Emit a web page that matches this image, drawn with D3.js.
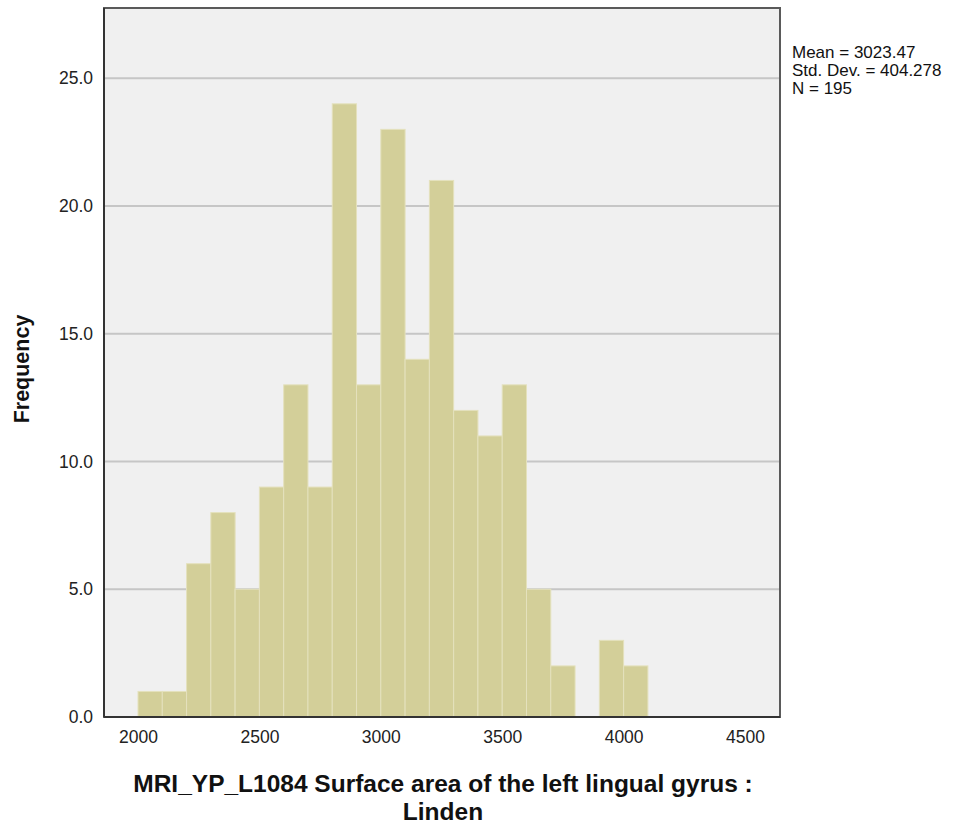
<!DOCTYPE html>
<html><head><meta charset="utf-8">
<script src="https://cdn.jsdelivr.net/npm/d3@7"></script>
<style>body{margin:0;background:#fff;font-family:"Liberation Sans",Arial,sans-serif;}</style>
</head><body>
<script>
const binStarts = [2000,2100,2200,2300,2400,2500,2600,2700,2800,2900,3000,3100,3200,3300,3400,3500,3600,3700,3800,3900,4000];
const frequencies = [1,1,6,8,5,9,13,9,24,13,23,14,21,12,11,13,5,2,0,3,2];
const binWidth = 100;
const xTicks = [2000,2500,3000,3500,4000,4500];
const yTicks = [0,5,10,15,20,25];
const statsLines = ["Mean = 3023.47","Std. Dev. = 404.278","N = 195"];
const xTitle = ["MRI_YP_L1084 Surface area of the left lingual gyrus :","Linden"];
const yTitle = "Frequency";

const W=956,H=827;
const L=104,R=780,T=8,B=717;
const svg=d3.select("body").append("svg").attr("width",W).attr("height",H);
const x=d3.scaleLinear().domain([1860,4644]).range([L,R]);
const y=d3.scaleLinear().domain([0,27.75]).range([B,T]);

svg.append("rect").attr("x",L).attr("y",T).attr("width",R-L).attr("height",B-T).attr("fill","#f0f0f0");

svg.append("g").selectAll("line").data(yTicks.filter(d=>d>0)).join("line")
 .attr("x1",L).attr("x2",R).attr("y1",d=>y(d)).attr("y2",d=>y(d))
 .attr("stroke","#c6c6c6").attr("stroke-width",2);

svg.append("g").selectAll("rect").data(binStarts.map((s,i)=>({s,f:frequencies[i]})).filter(d=>d.f>0)).join("rect")
 .attr("x",d=>x(d.s)).attr("width",d=>x(d.s+binWidth)-x(d.s))
 .attr("y",d=>y(d.f)).attr("height",d=>y(0)-y(d.f))
 .attr("fill","#d3cf99").attr("stroke","#e4e1bd").attr("stroke-width",1);

svg.append("rect").attr("x",L).attr("y",T).attr("width",R-L).attr("height",B-T)
 .attr("fill","none").attr("stroke","#5a5a5a").attr("stroke-width",2);
svg.append("line").attr("x1",L).attr("x2",R).attr("y1",B).attr("y2",B).attr("stroke","#333").attr("stroke-width",2);
svg.append("line").attr("x1",L).attr("x2",L).attr("y1",T).attr("y2",B).attr("stroke","#333").attr("stroke-width",2);

const xAxis=svg.append("g").attr("transform",`translate(0,${B})`)
 .call(d3.axisBottom(x).tickValues(xTicks).tickSize(0).tickPadding(14).tickFormat(d3.format("d")));
xAxis.select(".domain").remove();
xAxis.selectAll("text").attr("font-size",17.5).attr("fill","#222").attr("font-family","Liberation Sans, Arial, sans-serif");

const yAxis=svg.append("g").attr("transform",`translate(${L},0)`)
 .call(d3.axisLeft(y).tickValues(yTicks).tickSize(0).tickPadding(11).tickFormat(d3.format(".1f")));
yAxis.select(".domain").remove();
yAxis.selectAll("text").attr("font-size",17.5).attr("fill","#222").attr("font-family","Liberation Sans, Arial, sans-serif");

svg.append("text").attr("transform",`translate(29,369) rotate(-90)`)
 .attr("text-anchor","middle").attr("font-size",21.5).attr("font-weight","bold").attr("fill","#111").text(yTitle);

svg.append("text").attr("x",443).attr("y",792).attr("text-anchor","middle")
 .attr("font-size",24.5).attr("font-weight","bold").attr("fill","#111")
 .selectAll("tspan").data(xTitle).join("tspan").attr("x",443).attr("dy",(d,i)=>i?28:0).text(d=>d);

svg.append("text").attr("x",792).attr("y",58).attr("font-size",17).attr("fill","#111")
 .selectAll("tspan").data(statsLines).join("tspan").attr("x",792).attr("dy",(d,i)=>i?18:0).text(d=>d);
</script>
</body></html>
